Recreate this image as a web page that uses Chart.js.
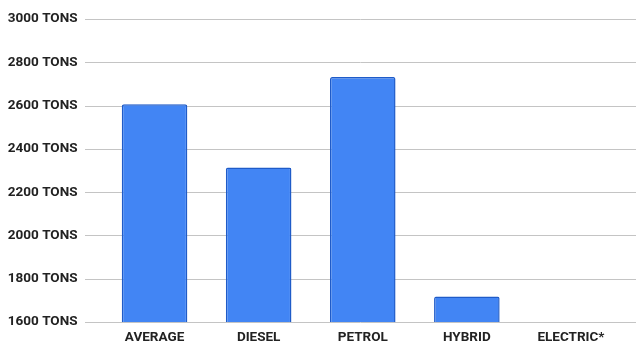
<!DOCTYPE html>
<html>
<head>
<meta charset="utf-8">
<script src="https://cdn.jsdelivr.net/npm/chart.js@4/dist/chart.umd.min.js"></script>
<style>
    html, body { margin: 0; padding: 0; background: #fff; overflow: hidden; }
    canvas { display: block; }
</style>
</head>
<body>
<canvas id="chart" width="636" height="344"></canvas>
<script>
'use strict';

// data
const categories = ['AVERAGE', 'DIESEL', 'PETROL', 'HYBRID', 'ELECTRIC*'];
const tons = [2606, 2314, 2732, 1718, null];
const yTicks = [1600, 1800, 2000, 2200, 2400, 2600, 2800, 3000];

// grid lines run wider than the bar area, like the original
const wideGrid = {
    id: 'wideGrid',
    beforeDatasetsDraw: (chart) => {
        const ctx = chart.ctx;
        const y = chart.scales.y;
        ctx.save();
        ctx.strokeStyle = '#c4c4c4';
        ctx.lineWidth = 1;
        y.ticks.forEach((t) => {
            const py = Math.round(y.getPixelForValue(t.value)) + 0.5;
            ctx.beginPath();
            ctx.moveTo(85, py);
            ctx.lineTo(chart.width, py);
            ctx.stroke();
        });
        ctx.restore();
    }
};

const labelFont = { family: 'Roboto', size: 13.5, weight: 'bold' };

new Chart(document.getElementById('chart'), {
    type: 'bar',
    data: {
        labels: categories,
        datasets: [{
            data: tons,
            backgroundColor: '#4285f4',
            borderColor: '#1f5bc8',
            borderWidth: 1.5,
            borderRadius: 2,
            borderSkipped: false,
            barPercentage: 0.63,
            categoryPercentage: 1
        }]
    },
    plugins: [wideGrid],
    options: {
        animation: false,
        responsive: false,
        layout: { padding: { top: 19, right: 13, left: 0, bottom: 0 } },
        plugins: {
            legend: { display: false },
            tooltip: { enabled: false }
        },
        scales: {
            x: {
                grid: { display: false, tickLength: 0 },
                border: { display: false },
                ticks: {
                    color: '#222',
                    font: labelFont,
                    padding: 8,
                    maxRotation: 0
                },
                afterFit: (scale) => { scale.height = 22; }
            },
            y: {
                min: 1600,
                max: 3000,
                afterBuildTicks: (scale) => {
                    scale.ticks = yTicks.map(v => ({ value: v }));
                },
                grid: { display: false, tickLength: 0 },
                border: { display: false },
                ticks: {
                    color: '#222',
                    font: labelFont,
                    padding: 25,
                    callback: (v) => v + ' TONS'
                },
                afterFit: (scale) => {
                    scale.width = 102.5;
                    scale.paddingTop = 0;
                    scale.paddingBottom = 0;
                }
            }
        }
    }
});
</script>
</body>
</html>
